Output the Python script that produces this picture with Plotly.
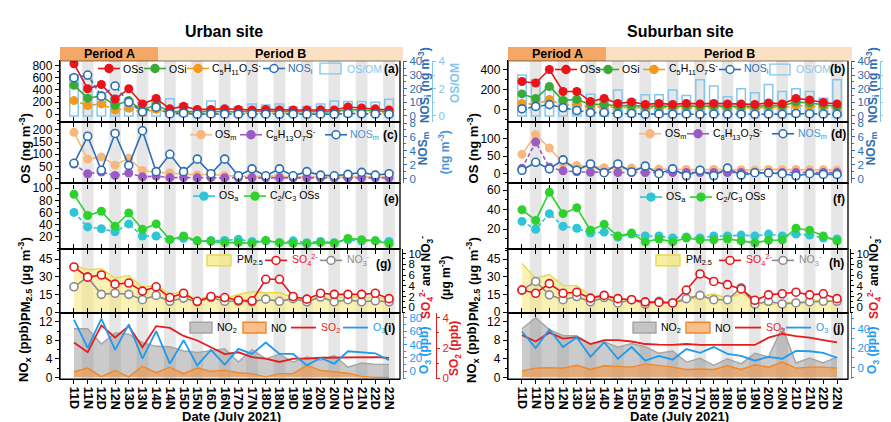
import plotly.graph_objects as go

W, H = 891, 422
FONT = "Arial, Liberation Sans, sans-serif"

cats = ["11D", "11N", "12D", "12N", "13D", "13N", "14D", "14N", "15D", "15N", "16D", "16N",
        "17D", "17N", "18D", "18N", "19D", "19N", "20D", "20N", "21D", "21N", "22D", "22N"]

# ---------------- Urban site ----------------
u_oss = [830, 420, 490, 250, 420, 170, 260, 90, 130, 80, 80, 90, 80, 70, 80, 70, 70, 70, 75, 70, 120, 105, 90, 70]
u_osi = [475, 265, 300, 145, 225, 65, 160, 40, 50, 40, 50, 45, 40, 50, 45, 40, 45, 50, 45, 40, 80, 70, 55, 45]
u_c5 = [225, 145, 170, 70, 100, 30, 80, 20, 25, 15, 20, 20, 15, 20, 20, 15, 20, 20, 20, 15, 50, 40, 30, 20]
u_nosi = [28, 30, 14.5, 22, 10, 3, 6.4, 1.5, 2, 1.2, 1.5, 1.3, 1.2, 1.4, 1.3, 1.2, 1.3, 1.2, 1.3, 1.2, 1.8, 1.6, 1.4, 1.2]
u_osom = [3.0, 2.7, 1.7, 1.5, 1.2, 1.1, 1.2, 1.26, 0.9, 0.5, 1.1, 0.7, 0.65, 0.87, 0.8, 0.87, 0.65, 0.7, 0.87, 1.1, 1.06, 1.06, 1.0, 1.22]
u_osm = [190, 80, 89, 55, 83, 33, 26, 23, 20, 15, 18, 12, 10, 8, 10, 8, 8, 7, 8, 7, 9, 8, 7, 6]
u_c8 = [60, 20, 27, 13, 23, 7, 10, 4, 4, 3, 4, 3, 3, 3, 3, 3, 3, 3, 3, 3, 3, 3, 3, 3]
u_nosm = [2.2, 6.1, 1.2, 6.5, 1.9, 6.9, 1.0, 3.5, 1.0, 2.8, 0.7, 2.8, 0.4, 1.4, 0.4, 1.4, 0.4, 1.0, 0.5, 0.4, 0.6, 0.9, 0.5, 0.7]
u_osa = [60, 36, 33, 28, 41, 21, 21, 15, 17, 13, 13.5, 13.5, 15.5, 12, 13, 10, 13, 10, 12, 10, 14.5, 13, 13, 12]
u_c23 = [90, 55, 62, 37, 59, 32, 41, 15, 21, 13, 12, 10, 10, 9, 13.5, 10, 9, 8, 10, 9, 17, 15, 13, 8]
u_pm = [40, 36, 37, 29, 31, 21, 23, 15, 17.5, 10, 15, 11.4, 15, 17.5, 16.4, 16.4, 12.8, 10, 13.6, 11.4, 13.6, 12, 12.8, 10.8]
u_so4 = [7.5, 5.6, 6.0, 4.3, 4.5, 3.0, 3.8, 1.8, 2.6, 1.1, 2.0, 1.8, 1.3, 1.2, 5.2, 5.2, 2.0, 1.5, 2.6, 2.4, 2.4, 2.4, 2.6, 1.6]
u_no3 = [3.8, 5.6, 2.4, 2.6, 2.4, 1.4, 2.2, 1.1, 1.7, 1.0, 1.8, 1.1, 1.1, 1.0, 1.5, 1.1, 1.6, 1.0, 1.9, 1.0, 1.4, 1.0, 1.2, 1.0]
u_no2 = [10.5, 10.5, 7.2, 9.6, 9.3, 7.5, 6.7, 6.6, 5.7, 5.4, 5.7, 6.2, 3.3, 6.0, 4.0, 5.0, 3.3, 4.4, 3.7, 4.7, 2.2, 3.1, 2.8, 2.8]
u_no = [1.2, 2.0, 0.15, 1.5, 0.1, 2.4, 1.0, 2.2, 0.8, 2.0, 1.3, 1.5, 1.0, 0.8, 0.1, 0.8, 0.8, 2.6, 1.5, 1.2, 0.9, 0.2, 0, 0]
u_so2 = [2.37, 1.72, 3.5, 2.7, 3.45, 2.05, 3.45, 3.33, 2.8, 2.5, 2.05, 1.6, 1.72, 1.4, 1.3, 1.08, 1.3, 1.3, 1.36, 1.36, 1.4, 1.4, 1.4, 1.35]
u_o3 = [77, 35, 78.5, 32, 70, 19, 60, 11.6, 46.5, 9, 32, 10, 33.5, 26, 43, 26, 26, 9, 20, 11.6, 30, 28.6, 27, 16.5]

# ---------------- Suburban site ----------------
s_oss = [280, 265, 400, 180, 180, 80, 110, 60, 75, 50, 60, 50, 60, 55, 60, 55, 55, 50, 65, 55, 110, 95, 70, 55]
s_osi = [155, 110, 230, 90, 100, 50, 50, 35, 40, 30, 35, 30, 35, 30, 35, 30, 30, 30, 40, 35, 75, 65, 45, 30]
s_c5 = [60, 50, 100, 40, 50, 20, 30, 18, 22, 15, 18, 15, 18, 15, 18, 16, 16, 15, 20, 16, 40, 35, 25, 15]
s_nosi = [5.2, 7.0, 8.3, 6.0, 4.0, 2.4, 2.5, 1.5, 1.8, 1.2, 1.5, 1.2, 1.4, 1.2, 1.4, 1.2, 1.3, 1.2, 1.4, 1.2, 1.8, 1.6, 1.4, 1.2]
s_osom = [3.0, 2.65, 2.1, 1.3, 1.3, 1.6, 1.3, 1.9, 1.2, 1.55, 1.55, 1.9, 1.5, 2.65, 2.2, 1.4, 2.0, 1.7, 2.3, 1.8, 2.0, 1.8, 1.3, 2.65]
s_osm = [55, 111, 73, 30, 23, 19, 17, 15, 16, 14, 13, 12, 12, 11, 12, 11, 11, 10, 12, 11, 12, 11, 11, 10]
s_c8 = [15, 90, 18, 8, 5, 4, 4, 3, 3, 3, 3, 3, 3, 3, 3, 3, 3, 3, 3, 3, 3, 3, 3, 3]
s_nosm = [1.2, 2.35, 1.4, 2.7, 1.2, 2.1, 0.85, 2.1, 0.95, 1.8, 0.7, 1.4, 0.4, 1.2, 0.4, 1.5, 0.5, 0.85, 0.8, 0.7, 0.4, 0.7, 0.6, 0.6]
s_osa = [28, 20, 36, 23, 21, 16, 17, 12, 15, 13, 13, 11, 12, 11, 13, 13, 14, 13, 15, 13, 15, 14, 11, 10]
s_c23 = [40, 29, 58, 36, 42, 19, 25, 13, 16, 7, 10, 7, 11, 9, 9, 10, 8, 6, 8.7, 9, 21, 19, 13, 8]
s_pm = [41.4, 28.6, 32, 22.5, 22.5, 14, 14, 10, 11.4, 8.6, 8.6, 7.2, 10, 12.8, 15.6, 11.4, 16.4, 8.6, 5.8, 8.6, 8, 10, 10, 8.6]
s_so4 = [3.2, 2.6, 4.4, 2.6, 2.8, 1.7, 2.2, 1.6, 1.4, 1.0, 0.9, 0.8, 3.2, 6.2, 4.8, 4.2, 3.4, 1.3, 2.3, 2.5, 2.8, 2.3, 2.5, 1.6]
s_no3 = [3.2, 4.8, 2.3, 1.4, 2.0, 1.0, 1.8, 0.8, 1.4, 0.6, 1.1, 0.8, 1.6, 2.2, 1.4, 1.4, 3.6, 0.6, 1.1, 0.6, 0.8, 1.0, 1.1, 1.1]
s_no2 = [10.5, 12.9, 10.3, 9.0, 9.0, 7.2, 7.7, 6.5, 7.3, 6.6, 5.2, 5.7, 3.3, 4.1, 2.6, 4.0, 2.9, 5.2, 4.4, 10.8, 3.1, 4.2, 3.1, 4.4]
s_no = [1.4, 2.0, 2.1, 2.0, 2.6, 1.7, 2.5, 2.4, 2.2, 2.9, 2.6, 2.2, 1.7, 1.8, 1.7, 2.5, 1.7, 2.7, 2.2, 3.3, 2.0, 2.2, 2.2, 2.0]
s_so2 = [2.36, 2.16, 2.44, 2.25, 2.3, 2.08, 2.2, 2.2, 2.16, 2.08, 2.06, 2.05, 2.08, 2.05, 2.05, 2.05, 2.05, 2.05, 2.28, 2.4, 2.33, 2.28, 2.2, 2.13]
s_o3 = [37, 20, 39, 21, 31, 11, 26, 9, 21, 7, 12, 8, 19, 15, 21, 14, 12, 7, 11, 9, 17, 16.7, 15, 10]

# ---------------- colours ----------------
C_RED = "#E8141A"
C_GREEN = "#3BAA34"
C_ORANGE = "#F39A1E"
C_NOS = "#2C6FB0"
C_OSOM = "#86C6EE"
C_OSM = "#F8B77C"
C_PURPLE = "#9A5BC4"
C_CYAN = "#2DC6D6"
C_LGREEN = "#2ED22E"
C_GRAY = "#8C8C8C"
C_O3 = "#1E9BEF"
C_SO2 = "#E51D1D"


def X(p):
    return p / W


def Y(p):
    return 1 - p / H


PANELS = [(49, 112), (112, 175), (175, 242), (242, 308), (308, 376)]
COLS = [dict(L=52, R=392, ra1=395, ra2a=424, ra2i=428, off=0, pa=150, pb=395),
        dict(L=500, R=840, ra1=843, ra2a=872, ra2i=876, off=448, pa=598, pb=844)]

layout = {}
shapes = []
annots = []
traces = []
counters = {"x": 0, "y": 0}


def add_axis(kind, cfg):
    counters[kind] += 1
    n = counters[kind]
    suf = "" if n == 1 else str(n)
    layout[kind + "axis" + suf] = cfg
    return kind + "axis" + suf, kind + suf


def ydom(p):
    t, b = PANELS[p]
    return [Y(b), Y(t)]


def yax(dom, rng, tickvals, color="black", side="left", anchor=None, position=None,
        overlaying=None, minor=None, fsize=12):
    d = dict(domain=dom, range=rng, tickmode="array", tickvals=tickvals,
             ticks="outside", ticklen=4 if side == "left" else 3, tickwidth=1.3, tickcolor=color,
             showline=True, linecolor=color, linewidth=1.3,
             showgrid=False, zeroline=False, side=side, fixedrange=True,
             tickfont=dict(size=fsize, color=color, family=FONT))
    if overlaying:
        d["overlaying"] = overlaying
    if position is not None:
        d["anchor"] = "free"
        d["position"] = position
    elif anchor:
        d["anchor"] = anchor
    if minor:
        d["minor"] = dict(tickmode="linear", tick0=0, dtick=minor, ticks="outside", ticklen=2,
                          tickwidth=1, tickcolor=color, showgrid=False)
    return d


def xax(dom, labels):
    return dict(domain=dom, type="category", categoryorder="array", categoryarray=cats,
                range=[-1.02, 23.8], tickmode="array", tickvals=cats,
                ticks="outside", ticklen=4, tickwidth=1.3, tickcolor="black",
                showline=True, linecolor="black", linewidth=1.3, mirror="ticks",
                showgrid=False, zeroline=False, showticklabels=labels, tickangle=90,
                fixedrange=True,
                tickfont=dict(size=12.5, family=FONT, color="black", weight="bold"))


def series(xr, yr, y, color, open_=False, dash="solid", size=9, lw=1.6):
    if open_:
        marker = dict(symbol="circle", size=size - 1, color="white", line=dict(color=color, width=1.6))
    else:
        marker = dict(symbol="circle", size=size, color=color, line=dict(width=0))
    traces.append(go.Scatter(x=cats, y=y, xaxis=xr, yaxis=yr, mode="lines+markers",
                             line=dict(color=color, width=lw, dash=dash), marker=marker,
                             showlegend=False, hoverinfo="skip"))


def area(xr, yr, y, fill, edge, lw=1.4):
    traces.append(go.Scatter(x=cats, y=y, xaxis=xr, yaxis=yr, mode="lines", fill="tozeroy",
                             fillcolor=fill, line=dict(color=edge, width=lw),
                             showlegend=False, hoverinfo="skip"))


def pline(xr, yr, y, color, lw=1.8):
    traces.append(go.Scatter(x=cats, y=y, xaxis=xr, yaxis=yr, mode="lines",
                             line=dict(color=color, width=lw), showlegend=False, hoverinfo="skip"))


def txt(x, y, text, color="black", size=10.5, xanchor="left", angle=0, bold=False):
    if bold:
        text = "<b>" + text + "</b>"
    annots.append(dict(x=X(x), y=Y(y), xref="paper", yref="paper", text=text, showarrow=False,
                       xanchor=xanchor, yanchor="middle", textangle=angle,
                       font=dict(size=size, color=color, family=FONT)))


def leg_ml(xc, y, color, filled=True, dash="solid", half=11, r=4):
    shapes.append(dict(type="line", xref="paper", yref="paper", x0=X(xc - half), x1=X(xc + half),
                       y0=Y(y), y1=Y(y), line=dict(color=color, width=1.6, dash=dash)))
    shapes.append(dict(type="circle", xref="paper", yref="paper", x0=X(xc - r), x1=X(xc + r),
                       y0=Y(y + r), y1=Y(y - r), fillcolor=color if filled else "white",
                       line=dict(color=color, width=1.5)))


def leg_line(x0, x1, y, color):
    shapes.append(dict(type="line", xref="paper", yref="paper", x0=X(x0), x1=X(x1),
                       y0=Y(y), y1=Y(y), line=dict(color=color, width=1.8)))


def leg_rect(x0, x1, y, fill, edge, h=11):
    shapes.append(dict(type="rect", xref="paper", yref="paper", x0=X(x0), x1=X(x1),
                       y0=Y(y + h / 2), y1=Y(y - h / 2), fillcolor=fill,
                       line=dict(color=edge, width=1.4)))


COLDATA = [
    dict(oss=u_oss, osi=u_osi, c5=u_c5, nosi=u_nosi, osom=u_osom, osm=u_osm, c8=u_c8, nosm=u_nosm,
         osa=u_osa, c23=u_c23, pm=u_pm, so4=u_so4, no3=u_no3, no2=u_no2, no=u_no, so2=u_so2, o3=u_o3,
         a_rng=[-128, 880], a_t=[0, 200, 400, 600, 800],
         c_rng=[-20, 232], c_t=[0, 50, 100, 150, 200],
         e_rng=[0, 108], e_t=[20, 40, 60, 80, 100],
         o3_rng=[-11.6, 87], o3_t=[0, 20, 40, 60, 80],
         so2_rng=[-0.06, 4.32], so2_t=[0, 2, 4], so2_minor=1,
         title="Urban site", title_x=216, labels="acegi"),
    dict(oss=s_oss, osi=s_osi, c5=s_c5, nosi=s_nosi, osom=s_osom, osm=s_osm, c8=s_c8, nosm=s_nosm,
         osa=s_osa, c23=s_c23, pm=s_pm, so4=s_so4, no3=s_no3, no2=s_no2, no=s_no, so2=s_so2, o3=s_o3,
         a_rng=[-127, 488], a_t=[0, 200, 400],
         c_rng=[-28, 147], c_t=[0, 50, 100],
         e_rng=[0, 67], e_t=[20, 40, 60],
         o3_rng=[-12, 56], o3_t=[0, 20, 40],
         so2_rng=[0.97, 3.06], so2_t=[1, 2, 3], so2_minor=0.5,
         title="Suburban site", title_x=672, labels="bdfhj"),
]

LEG = [
    dict(a=dict(y=57, m=[101, 147, 190, 266], t=[113, 159, 202, 278], r=(312, 333), rt=337, lab=383),
         c=dict(y=125, m=[193, 243, 328], t=[205, 256, 340], lab=382),
         e=dict(y=188, m=[196, 247], t=[209, 260], lab=383, laby=191),
         g=dict(y=254, r=(199, 223), rt=227, m=[268, 323], t=[282, 337], lab=375, laby=258),
         i=dict(y=323, r1=(182, 204), t1=207, r2=(235, 258), t2=261, l1=(283, 308), t3=311,
                l2=(335, 360), t4=363, lab=381)),
    dict(a=dict(y=58, m=[558, 600, 646, 722], t=[570, 612, 659, 734], r=(762, 782), rt=786, lab=829),
         c=dict(y=124, m=[642, 690, 775], t=[655, 703, 788], lab=830),
         e=dict(y=189, m=[643, 693], t=[656, 706], lab=831, laby=191),
         g=dict(y=254, r=(648, 672), rt=676, m=[722, 775], t=[736, 789], lab=828, laby=257),
         i=dict(y=323, r1=(625, 648), t1=651, r2=(678, 702), t2=705, l1=(727, 753), t3=756,
                l2=(778, 803), t4=806, lab=830)),
]

DASH = "4px,2.5px"
RF = 11.5  # right axes tick font size

for ci in range(2):
    c = COLS[ci]
    D = COLDATA[ci]
    G = LEG[ci]
    L, R, off = c["L"], c["R"], c["off"]
    xdom = [X(L), X(R)]

    # ---------- panel a/b ----------
    kx, rx = add_axis("x", xax(xdom, False))
    first_x = rx
    kb, rb = add_axis("y", yax(ydom(0), [-0.45, 4.05], [0, 2, 4], C_OSOM, "right",
                               position=X(c["ra2a"]), minor=1, fsize=RF))
    layout[kx]["anchor"] = rb
    ko, ro = add_axis("y", yax(ydom(0), D["a_rng"], D["a_t"], "black", "left", anchor=rx,
                               overlaying=rb, minor=100))
    kn, rn = add_axis("y", yax(ydom(0), [-4.5, 40.5], [0, 10, 20, 30, 40], C_NOS, "right",
                               position=X(c["ra1"]), overlaying=rb, minor=5, fsize=RF))
    traces.append(go.Bar(x=cats, y=D["osom"], xaxis=rx, yaxis=rb, width=0.62,
                         marker=dict(color="rgba(0,0,0,0)", line=dict(color=C_OSOM, width=1.5)),
                         showlegend=False, hoverinfo="skip"))
    series(rx, ro, D["c5"], C_ORANGE, dash=DASH)
    series(rx, ro, D["osi"], C_GREEN)
    series(rx, ro, D["oss"], C_RED)
    series(rx, rn, D["nosi"], C_NOS, open_=True, dash=DASH)

    # ---------- panel c/d ----------
    kx, rx = add_axis("x", xax(xdom, False))
    kb, rb = add_axis("y", yax(ydom(1), D["c_rng"], D["c_t"], "black", "left", anchor=rx, minor=25))
    layout[kx]["anchor"] = rb
    kn, rn = add_axis("y", yax(ydom(1), [-0.7, 8.14], [0, 2, 4, 6, 8], C_NOS, "right",
                               position=X(c["ra1"]), overlaying=rb, minor=1, fsize=RF))
    series(rx, rb, D["osm"], C_OSM)
    series(rx, rb, D["c8"], C_PURPLE, dash=DASH)
    series(rx, rn, D["nosm"], C_NOS, open_=True)

    # ---------- panel e/f ----------
    kx, rx = add_axis("x", xax(xdom, False))
    kb, rb = add_axis("y", yax(ydom(2), D["e_rng"], D["e_t"], "black", "left", anchor=rx, minor=10))
    layout[kx]["anchor"] = rb
    series(rx, rb, D["osa"], C_CYAN, dash=DASH)
    series(rx, rb, D["c23"], C_LGREEN)

    # ---------- panel g/h ----------
    kx, rx = add_axis("x", xax(xdom, False))
    kb, rb = add_axis("y", yax(ydom(3), [-0.8, 54], [0, 15, 30, 45], "black", "left", anchor=rx, minor=7.5))
    layout[kx]["anchor"] = rb
    kn, rn = add_axis("y", yax(ydom(3), [-1.07, 10.9], [0, 2, 4, 6, 8, 10], "black", "right",
                               position=X(c["ra1"] - 1), overlaying=rb, minor=1, fsize=RF))
    area(rx, rb, D["pm"], "rgba(246,232,120,0.55)", "#E9D84E")
    series(rx, rn, D["no3"], C_GRAY, open_=True)
    series(rx, rn, D["so4"], C_RED, open_=True)

    # ---------- panel i/j ----------
    kx, rx = add_axis("x", xax(xdom, True))
    kb, rb = add_axis("y", yax(ydom(4), [-0.4, 13.9], [0, 4, 8, 12], "black", "left", anchor=rx, minor=2))
    layout[kx]["anchor"] = rb
    ks, rs = add_axis("y", yax(ydom(4), D["so2_rng"], D["so2_t"], C_SO2, "right",
                               position=X(c["ra2i"]), overlaying=rb, minor=D["so2_minor"], fsize=RF))
    kq, rq = add_axis("y", yax(ydom(4), D["o3_rng"], D["o3_t"], C_O3, "right",
                               position=X(c["ra1"]), overlaying=rb, minor=10, fsize=RF))
    area(rx, rb, D["no2"], "rgba(140,140,140,0.45)", "#A5A5A5")
    area(rx, rb, D["no"], "rgba(245,150,70,0.6)", "#F0882A")
    pline(rx, rs, D["so2"], C_SO2)
    pline(rx, rq, D["o3"], C_O3)

    # ---------- night stripes ----------
    for i in range(1, 24, 2):
        shapes.append(dict(type="rect", xref=first_x, yref="paper", x0=i - 0.43, x1=i + 0.43,
                           y0=Y(376), y1=Y(49), fillcolor="#E6E6E6", line=dict(width=0),
                           layer="below"))

    # ---------- frames ----------
    for (t, b) in PANELS:
        shapes.append(dict(type="rect", xref="paper", yref="paper", x0=X(L), x1=X(R),
                           y0=Y(b), y1=Y(t), fillcolor="rgba(0,0,0,0)",
                           line=dict(color="black", width=1.3)))

    # ---------- period header ----------
    shapes.append(dict(type="rect", xref="paper", yref="paper", x0=X(L), x1=X(c["pa"]),
                       y0=Y(49), y1=Y(35), fillcolor="#F5A865", line=dict(width=0)))
    shapes.append(dict(type="rect", xref="paper", yref="paper", x0=X(c["pa"]), x1=X(c["pb"]),
                       y0=Y(49), y1=Y(35), fillcolor="#FCE0C3", line=dict(width=0)))
    txt((L + c["pa"]) / 2, 42, "Period A", size=12.5, xanchor="center", bold=True)
    txt((c["pa"] + c["pb"]) / 2, 42, "Period B", size=12.5, xanchor="center", bold=True)

    # ---------- titles ----------
    txt(D["title_x"], 19, D["title"], size=16, xanchor="center", bold=True)
    txt((L + R) / 2 + 1, 414, "Date (July 2021)", size=13, xanchor="center", bold=True)

    # left axis titles
    lx = 17 + off
    txt(lx, 139, "OS (ng m<sup>-3</sup>)", size=13, xanchor="center", angle=-90, bold=True)
    txt(lx, 273, "PM<sub>2.5</sub> (μg m<sup>-3</sup>)", size=13, xanchor="center", angle=-90, bold=True)
    txt(lx, 348, "NO<sub>x</sub> (ppb)", size=13, xanchor="center", angle=-90, bold=True)

    # right axis titles
    txt(417 + off, 74, "NOS<sub>i</sub> (ng m<sup>-3</sup>)", color=C_NOS, size=12, xanchor="center", angle=-90, bold=True)
    txt(447 + off, 72, "OS/OM", color=C_OSOM, size=12, xanchor="center", angle=-90, bold=True)
    txt(416 + off, 140, "NOS<sub>m</sub>", color=C_NOS, size=12, xanchor="center", angle=-90, bold=True)
    txt(436 + off, 143, "(ng m<sup>-3</sup>)", color="#4C93D2", size=12, xanchor="center", angle=-90, bold=True)
    txt(418 + off, 272, "<span style='color:%s'>SO<sub>4</sub><sup>2-</sup></span> and NO<sub>3</sub><sup>-</sup>" % C_RED,
        size=12, xanchor="center", angle=-90, bold=True)
    txt(437 + off, 272, "(μg m<sup>-3</sup>)", size=12, xanchor="center", angle=-90, bold=True)
    txt(417 + off, 347, "O<sub>3</sub> (ppb)", color=C_O3, size=12, xanchor="center", angle=-90, bold=True)
    txt(447 + off, 345, "SO<sub>2</sub> (ppb)", color=C_SO2, size=12, xanchor="center", angle=-90, bold=True)

    # ---------- legends ----------
    lab = D["labels"]
    g = G["a"]
    leg_ml(g["m"][0], g["y"], C_RED)
    txt(g["t"][0], g["y"], "OSs")
    leg_ml(g["m"][1], g["y"], C_GREEN)
    txt(g["t"][1], g["y"], "OSi")
    leg_ml(g["m"][2], g["y"], C_ORANGE)
    txt(g["t"][2], g["y"], "C<sub>5</sub>H<sub>11</sub>O<sub>7</sub>S<sup>-</sup>")
    leg_ml(g["m"][3], g["y"], C_NOS, filled=False)
    txt(g["t"][3], g["y"], "NOS<sub>i</sub>", color=C_NOS)
    leg_rect(g["r"][0], g["r"][1], g["y"], "rgba(0,0,0,0)", C_OSOM)
    txt(g["rt"], g["y"], "OS/OM", color=C_OSOM)
    txt(g["lab"], g["y"], "(%s)" % lab[0], size=12, xanchor="center", bold=True)

    g = G["c"]
    leg_ml(g["m"][0], g["y"], C_OSM)
    txt(g["t"][0], g["y"], "OS<sub>m</sub>")
    leg_ml(g["m"][1], g["y"], C_PURPLE)
    txt(g["t"][1], g["y"], "C<sub>8</sub>H<sub>13</sub>O<sub>7</sub>S<sup>-</sup>")
    leg_ml(g["m"][2], g["y"], C_NOS, filled=False)
    txt(g["t"][2], g["y"], "NOS<sub>m</sub>", color="#4C93D2")
    txt(g["lab"], g["y"], "(%s)" % lab[1], size=12, xanchor="center", bold=True)

    g = G["e"]
    leg_ml(g["m"][0], g["y"], C_CYAN)
    txt(g["t"][0], g["y"], "OS<sub>a</sub>")
    leg_ml(g["m"][1], g["y"], C_LGREEN)
    txt(g["t"][1], g["y"], "C<sub>2</sub>/C<sub>3</sub> OSs")
    txt(g["lab"], g["laby"], "(%s)" % lab[2], size=12, xanchor="center", bold=True)

    g = G["g"]
    leg_rect(g["r"][0], g["r"][1], g["y"], "rgba(246,232,120,0.7)", "#E9D84E")
    txt(g["rt"], g["y"], "PM<sub>2.5</sub>")
    leg_ml(g["m"][0], g["y"], C_RED, filled=False)
    txt(g["t"][0], g["y"], "SO<sub>4</sub><sup>2-</sup>", color=C_RED)
    leg_ml(g["m"][1], g["y"], C_GRAY, filled=False)
    txt(g["t"][1], g["y"], "NO<sub>3</sub><sup>-</sup>", color=C_GRAY)
    txt(g["lab"], g["laby"], "(%s)" % lab[3], size=12, xanchor="center", bold=True)

    g = G["i"]
    leg_rect(g["r1"][0], g["r1"][1], g["y"], "#C4C4C4", "#A5A5A5")
    txt(g["t1"], g["y"], "NO<sub>2</sub>")
    leg_rect(g["r2"][0], g["r2"][1], g["y"], "#F8BE8C", "#F0882A")
    txt(g["t2"], g["y"], "NO")
    leg_line(g["l1"][0], g["l1"][1], g["y"], C_SO2)
    txt(g["t3"], g["y"], "SO<sub>2</sub>", color=C_SO2)
    leg_line(g["l2"][0], g["l2"][1], g["y"], C_O3)
    txt(g["t4"], g["y"], "O<sub>3</sub>", color=C_O3)
    txt(g["lab"], g["y"], "(%s)" % lab[4], size=12, xanchor="center", bold=True)

fig = go.Figure(data=traces)
fig.update_layout(**layout)
fig.update_layout(width=W, height=H, autosize=False,
                  margin=dict(l=0, r=0, t=0, b=0, pad=0),
                  paper_bgcolor="white", plot_bgcolor="rgba(0,0,0,0)",
                  showlegend=False, bargap=0.38,
                  font=dict(family=FONT, size=12, color="black"),
                  shapes=shapes, annotations=annots)
fig.write_html("out.html")
